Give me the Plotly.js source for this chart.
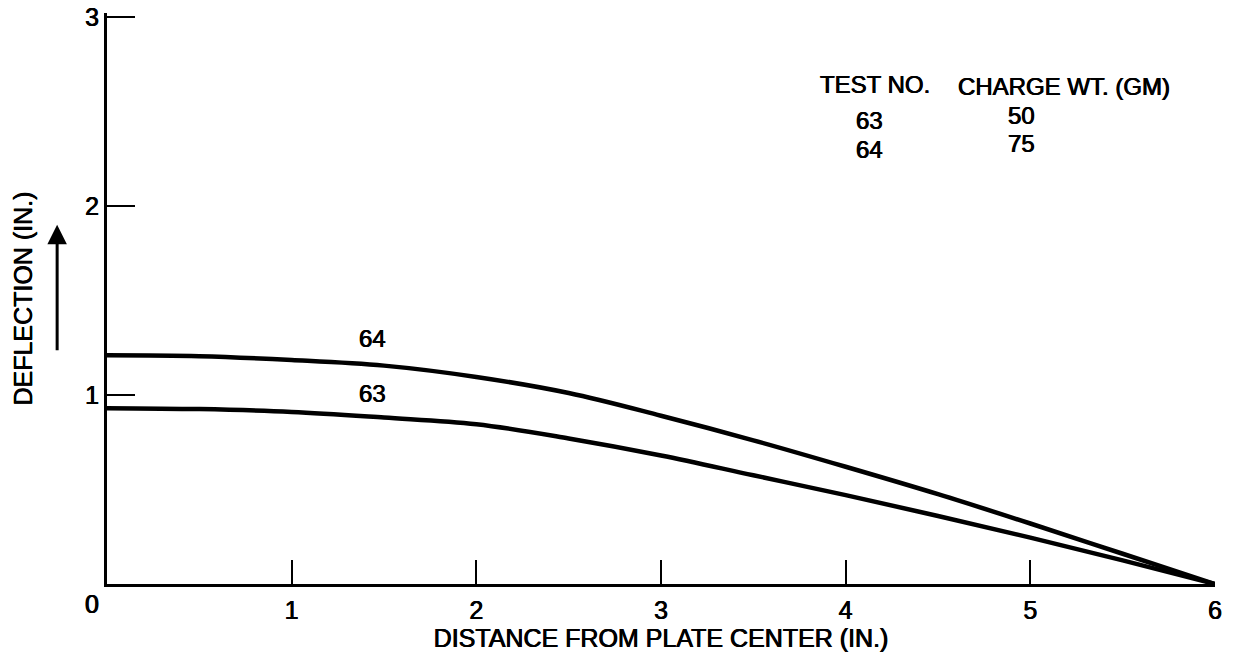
<!DOCTYPE html>
<html>
<head>
<meta charset="utf-8">
<script src="https://cdn.plot.ly/plotly-3.0.1.min.js"></script>
<style>
html,body{margin:0;padding:0;background:#fff;}
#chart{width:1235px;height:664px;}
</style>
</head>
<body>
<div id="chart"></div>
<script>
// Data
const distance = [0, 0.5, 1, 1.5, 2, 2.5, 3, 3.5, 4, 4.5, 5, 5.5, 6];
const deflection63 = [0.93, 0.925, 0.91, 0.88, 0.845, 0.77, 0.68, 0.575, 0.47, 0.36, 0.245, 0.125, 0];
const deflection64 = [1.21, 1.205, 1.185, 1.155, 1.095, 1.01, 0.89, 0.76, 0.62, 0.475, 0.32, 0.16, 0];
const testNumbers = ['63', '64'];
const chargeWeights = ['50', '75'];
const xTicks = [1, 2, 3, 4, 5, 6];
const yTicks = [1, 2, 3];

const FONT = 'Liberation Sans, Arial, Helvetica, sans-serif';
const fs = 25;
const SH = '0.4px 0 0 #000, -0.4px 0 0 #000';

const traces = [
  {x: distance, y: deflection63, mode: 'lines', name: testNumbers[0],
   line: {color: '#000', width: 4.5, shape: 'spline', smoothing: 1}, showlegend: false},
  {x: distance, y: deflection64, mode: 'lines', name: testNumbers[1],
   line: {color: '#000', width: 4.5, shape: 'spline', smoothing: 1}, showlegend: false}
];

const f = {family: FONT, size: fs, color: '#000', shadow: SH};
const fsm = {family: FONT, size: 24, color: '#000', shadow: SH};
const ann = [];
// curve labels
ann.push({x: 1.435, y: 1.30, text: testNumbers[1], showarrow: false, font: fsm});
ann.push({x: 1.435, y: 1.01, text: testNumbers[0], showarrow: false, font: fsm});
// table
ann.push({x: 4.16, y: 2.64, text: 'TEST NO.', showarrow: false, font: fsm});
ann.push({x: 5.18, y: 2.63, text: 'CHARGE WT. (GM)', showarrow: false, font: fsm});
const rowY1 = [2.45, 2.30];
const rowY2 = [2.48, 2.33];
testNumbers.forEach((t, i) => {
  ann.push({x: 4.13, y: rowY1[i], text: t, showarrow: false, font: fsm});
  ann.push({x: 4.95, y: rowY2[i], text: chargeWeights[i], showarrow: false, font: fsm});
});
// origin label
ann.push({x: 0, y: 0, text: '0', showarrow: false, xshift: -15, yshift: -20, font: f});
// arrow
ann.push({xref: 'paper', x: -0.045, y: 1.90, ax: 0, ay: 127, text: '', showarrow: true,
  arrowhead: 2, arrowsize: 1.3, arrowwidth: 3, arrowcolor: '#000'});

const layout = {
  width: 1235, height: 664,
  margin: {l: 107, r: 20, t: 13, b: 80},
  paper_bgcolor: '#fff', plot_bgcolor: '#fff',
  font: f,
  showlegend: false,
  xaxis: {
    range: [0, 6], tickvals: xTicks, ticktext: xTicks.map(String),
    ticks: 'inside', ticklen: 24, tickwidth: 2, tickcolor: '#000',
    showline: true, linecolor: '#000', linewidth: 3,
    showgrid: false, zeroline: false, ticklabelstandoff: 2,
    tickfont: f,
    title: {text: 'DISTANCE FROM PLATE CENTER (IN.)', font: f, standoff: 6},
    automargin: false
  },
  yaxis: {
    range: [0, 3.02], tickvals: yTicks, ticktext: yTicks.map(String),
    ticks: 'inside', ticklen: 28, tickwidth: 2, tickcolor: '#000',
    showline: true, linecolor: '#000', linewidth: 3,
    showgrid: false, zeroline: false,
    tickfont: f,
    title: {text: 'DEFLECTION (IN.)', font: f, standoff: 46},
    automargin: false
  },
  annotations: ann
};

Plotly.newPlot('chart', traces, layout, {staticPlot: true, displayModeBar: false});
</script>
</body>
</html>
